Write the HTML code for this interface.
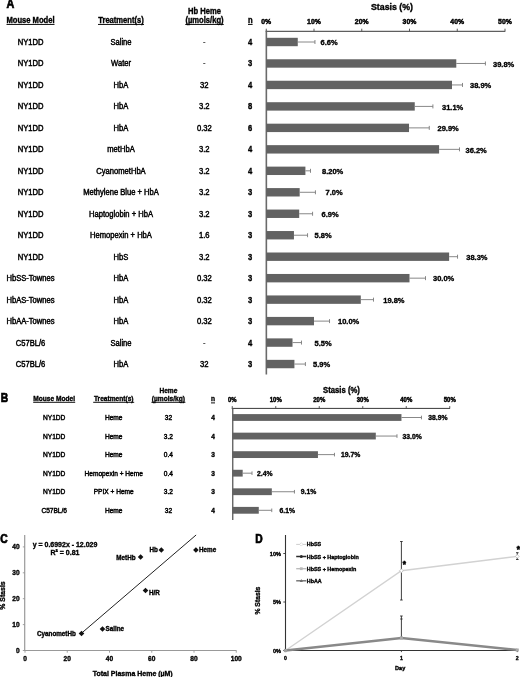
<!DOCTYPE html>
<html><head><meta charset="utf-8"><title>Figure</title>
<style>
html,body{margin:0;padding:0;background:#fff;}
svg{display:block;font-family:"Liberation Sans", Arial, sans-serif;}
</style></head>
<body>
<svg width="520" height="677" viewBox="0 0 520 677">
<rect width="520" height="677" fill="#fff"/>
<text transform="translate(6.60,8.20) scale(1,1.15)" font-size="10.8" font-weight="bold" text-anchor="start" fill="#000" stroke="#000" stroke-width="0.6">A</text>
<text transform="translate(30.50,23.20) scale(1,1.07)" font-size="7.6" font-weight="bold" text-anchor="middle" fill="#000" stroke="#000" stroke-width="0.34">Mouse Model</text>
<line x1="6.50" y1="24.45" x2="54.50" y2="24.45" stroke="#000" stroke-width="0.95"/>
<text transform="translate(121.00,23.20) scale(1,1.07)" font-size="7.6" font-weight="bold" text-anchor="middle" fill="#000" stroke="#000" stroke-width="0.34">Treatment(s)</text>
<line x1="98.00" y1="24.45" x2="144.00" y2="24.45" stroke="#000" stroke-width="0.95"/>
<text transform="translate(204.50,13.60) scale(1,1.07)" font-size="7.6" font-weight="bold" text-anchor="middle" fill="#000" stroke="#000" stroke-width="0.34">Hb Heme</text>
<text transform="translate(204.50,23.20) scale(1,1.07)" font-size="7.6" font-weight="bold" text-anchor="middle" fill="#000" stroke="#000" stroke-width="0.34">(µmols/kg)</text>
<line x1="185.25" y1="24.45" x2="223.75" y2="24.45" stroke="#000" stroke-width="0.95"/>
<text transform="translate(250.30,23.20) scale(1,1.07)" font-size="7.6" font-weight="bold" text-anchor="middle" fill="#000" stroke="#000" stroke-width="0.34">n</text>
<line x1="248.00" y1="24.45" x2="252.60" y2="24.45" stroke="#000" stroke-width="0.95"/>
<text transform="translate(392.00,10.00) scale(1,1.07)" font-size="8.8" font-weight="bold" text-anchor="middle" fill="#000" stroke="#000" stroke-width="0.34">Stasis (%)</text>
<line x1="265.75" y1="31.30" x2="505.30" y2="31.30" stroke="#383838" stroke-width="1.0"/>
<line x1="266.35" y1="30.80" x2="266.35" y2="374.50" stroke="#6a6a6a" stroke-width="1.6"/>
<line x1="266.25" y1="28.70" x2="266.25" y2="31.30" stroke="#4a4a4a" stroke-width="0.9"/>
<text transform="translate(266.25,24.40) scale(1,1.07)" font-size="6.9" font-weight="bold" text-anchor="middle" fill="#000" stroke="#000" stroke-width="0.45">0%</text>
<line x1="314.00" y1="28.70" x2="314.00" y2="31.30" stroke="#4a4a4a" stroke-width="0.9"/>
<text transform="translate(314.00,24.40) scale(1,1.07)" font-size="6.9" font-weight="bold" text-anchor="middle" fill="#000" stroke="#000" stroke-width="0.45">10%</text>
<line x1="361.75" y1="28.70" x2="361.75" y2="31.30" stroke="#4a4a4a" stroke-width="0.9"/>
<text transform="translate(361.75,24.40) scale(1,1.07)" font-size="6.9" font-weight="bold" text-anchor="middle" fill="#000" stroke="#000" stroke-width="0.45">20%</text>
<line x1="409.50" y1="28.70" x2="409.50" y2="31.30" stroke="#4a4a4a" stroke-width="0.9"/>
<text transform="translate(409.50,24.40) scale(1,1.07)" font-size="6.9" font-weight="bold" text-anchor="middle" fill="#000" stroke="#000" stroke-width="0.45">30%</text>
<line x1="457.25" y1="28.70" x2="457.25" y2="31.30" stroke="#4a4a4a" stroke-width="0.9"/>
<text transform="translate(457.25,24.40) scale(1,1.07)" font-size="6.9" font-weight="bold" text-anchor="middle" fill="#000" stroke="#000" stroke-width="0.45">40%</text>
<line x1="505.00" y1="28.70" x2="505.00" y2="31.30" stroke="#4a4a4a" stroke-width="0.9"/>
<text transform="translate(505.00,24.40) scale(1,1.07)" font-size="6.9" font-weight="bold" text-anchor="middle" fill="#000" stroke="#000" stroke-width="0.45">50%</text>
<text transform="translate(30.50,45.01) scale(1,1.07)" font-size="7.6" text-anchor="middle" fill="#000" stroke="#000" stroke-width="0.42">NY1DD</text>
<text transform="translate(121.00,45.01) scale(1,1.07)" font-size="7.6" text-anchor="middle" fill="#000" stroke="#000" stroke-width="0.42">Saline</text>
<text transform="translate(204.30,45.01) scale(1,1.07)" font-size="7.6" text-anchor="middle" fill="#444" stroke="#444" stroke-width="0.1">-</text>
<text transform="translate(250.20,45.01) scale(1,1.07)" font-size="7.6" font-weight="bold" text-anchor="middle" fill="#000" stroke="#000" stroke-width="0.34">4</text>
<rect x="266.25" y="37.80" width="31.52" height="8.40" fill="#626262"/>
<line x1="297.76" y1="42.00" x2="314.95" y2="42.00" stroke="#7a7a7a" stroke-width="0.9"/>
<line x1="314.95" y1="40.00" x2="314.95" y2="44.00" stroke="#7a7a7a" stroke-width="0.9"/>
<text transform="translate(320.50,45.17) scale(1,1.07)" font-size="7.5" font-weight="bold" text-anchor="start" fill="#000" stroke="#000" stroke-width="0.34">6.6%</text>
<text transform="translate(30.50,66.48) scale(1,1.07)" font-size="7.6" text-anchor="middle" fill="#000" stroke="#000" stroke-width="0.42">NY1DD</text>
<text transform="translate(121.00,66.48) scale(1,1.07)" font-size="7.6" text-anchor="middle" fill="#000" stroke="#000" stroke-width="0.42">Water</text>
<text transform="translate(204.30,66.48) scale(1,1.07)" font-size="7.6" text-anchor="middle" fill="#444" stroke="#444" stroke-width="0.1">-</text>
<text transform="translate(250.20,66.48) scale(1,1.07)" font-size="7.6" font-weight="bold" text-anchor="middle" fill="#000" stroke="#000" stroke-width="0.34">3</text>
<rect x="266.25" y="59.27" width="190.04" height="8.40" fill="#626262"/>
<line x1="456.29" y1="63.47" x2="485.42" y2="63.47" stroke="#7a7a7a" stroke-width="0.9"/>
<line x1="485.42" y1="61.47" x2="485.42" y2="65.47" stroke="#7a7a7a" stroke-width="0.9"/>
<text transform="translate(493.00,66.64) scale(1,1.07)" font-size="7.5" font-weight="bold" text-anchor="start" fill="#000" stroke="#000" stroke-width="0.34">39.8%</text>
<text transform="translate(30.50,87.95) scale(1,1.07)" font-size="7.6" text-anchor="middle" fill="#000" stroke="#000" stroke-width="0.42">NY1DD</text>
<text transform="translate(121.00,87.95) scale(1,1.07)" font-size="7.6" text-anchor="middle" fill="#000" stroke="#000" stroke-width="0.42">HbA</text>
<text transform="translate(204.30,87.95) scale(1,1.07)" font-size="7.6" text-anchor="middle" fill="#000" stroke="#000" stroke-width="0.42">32</text>
<text transform="translate(250.20,87.95) scale(1,1.07)" font-size="7.6" font-weight="bold" text-anchor="middle" fill="#000" stroke="#000" stroke-width="0.34">4</text>
<rect x="266.25" y="80.74" width="185.75" height="8.40" fill="#626262"/>
<line x1="452.00" y1="84.94" x2="462.50" y2="84.94" stroke="#7a7a7a" stroke-width="0.9"/>
<line x1="462.50" y1="82.94" x2="462.50" y2="86.94" stroke="#7a7a7a" stroke-width="0.9"/>
<text transform="translate(470.00,88.11) scale(1,1.07)" font-size="7.5" font-weight="bold" text-anchor="start" fill="#000" stroke="#000" stroke-width="0.34">38.9%</text>
<text transform="translate(30.50,109.42) scale(1,1.07)" font-size="7.6" text-anchor="middle" fill="#000" stroke="#000" stroke-width="0.42">NY1DD</text>
<text transform="translate(121.00,109.42) scale(1,1.07)" font-size="7.6" text-anchor="middle" fill="#000" stroke="#000" stroke-width="0.42">HbA</text>
<text transform="translate(204.30,109.42) scale(1,1.07)" font-size="7.6" text-anchor="middle" fill="#000" stroke="#000" stroke-width="0.42">3.2</text>
<text transform="translate(250.20,109.42) scale(1,1.07)" font-size="7.6" font-weight="bold" text-anchor="middle" fill="#000" stroke="#000" stroke-width="0.34">8</text>
<rect x="266.25" y="102.21" width="148.50" height="8.40" fill="#626262"/>
<line x1="414.75" y1="106.41" x2="432.90" y2="106.41" stroke="#7a7a7a" stroke-width="0.9"/>
<line x1="432.90" y1="104.41" x2="432.90" y2="108.41" stroke="#7a7a7a" stroke-width="0.9"/>
<text transform="translate(442.00,109.58) scale(1,1.07)" font-size="7.5" font-weight="bold" text-anchor="start" fill="#000" stroke="#000" stroke-width="0.34">31.1%</text>
<text transform="translate(30.50,130.89) scale(1,1.07)" font-size="7.6" text-anchor="middle" fill="#000" stroke="#000" stroke-width="0.42">NY1DD</text>
<text transform="translate(121.00,130.89) scale(1,1.07)" font-size="7.6" text-anchor="middle" fill="#000" stroke="#000" stroke-width="0.42">HbA</text>
<text transform="translate(204.30,130.89) scale(1,1.07)" font-size="7.6" text-anchor="middle" fill="#000" stroke="#000" stroke-width="0.42">0.32</text>
<text transform="translate(250.20,130.89) scale(1,1.07)" font-size="7.6" font-weight="bold" text-anchor="middle" fill="#000" stroke="#000" stroke-width="0.34">6</text>
<rect x="266.25" y="123.68" width="142.77" height="8.40" fill="#626262"/>
<line x1="409.02" y1="127.88" x2="429.27" y2="127.88" stroke="#7a7a7a" stroke-width="0.9"/>
<line x1="429.27" y1="125.88" x2="429.27" y2="129.88" stroke="#7a7a7a" stroke-width="0.9"/>
<text transform="translate(437.50,131.05) scale(1,1.07)" font-size="7.5" font-weight="bold" text-anchor="start" fill="#000" stroke="#000" stroke-width="0.34">29.9%</text>
<text transform="translate(30.50,152.36) scale(1,1.07)" font-size="7.6" text-anchor="middle" fill="#000" stroke="#000" stroke-width="0.42">NY1DD</text>
<text transform="translate(121.00,152.36) scale(1,1.07)" font-size="7.6" text-anchor="middle" fill="#000" stroke="#000" stroke-width="0.42">metHbA</text>
<text transform="translate(204.30,152.36) scale(1,1.07)" font-size="7.6" text-anchor="middle" fill="#000" stroke="#000" stroke-width="0.42">3.2</text>
<text transform="translate(250.20,152.36) scale(1,1.07)" font-size="7.6" font-weight="bold" text-anchor="middle" fill="#000" stroke="#000" stroke-width="0.34">4</text>
<rect x="266.25" y="145.15" width="172.86" height="8.40" fill="#626262"/>
<line x1="439.11" y1="149.35" x2="459.49" y2="149.35" stroke="#7a7a7a" stroke-width="0.9"/>
<line x1="459.49" y1="147.35" x2="459.49" y2="151.35" stroke="#7a7a7a" stroke-width="0.9"/>
<text transform="translate(465.50,152.52) scale(1,1.07)" font-size="7.5" font-weight="bold" text-anchor="start" fill="#000" stroke="#000" stroke-width="0.34">36.2%</text>
<text transform="translate(30.50,173.83) scale(1,1.07)" font-size="7.6" text-anchor="middle" fill="#000" stroke="#000" stroke-width="0.42">NY1DD</text>
<text transform="translate(121.00,173.83) scale(1,1.07)" font-size="7.6" text-anchor="middle" fill="#000" stroke="#000" stroke-width="0.42">CyanometHbA</text>
<text transform="translate(204.30,173.83) scale(1,1.07)" font-size="7.6" text-anchor="middle" fill="#000" stroke="#000" stroke-width="0.42">3.2</text>
<text transform="translate(250.20,173.83) scale(1,1.07)" font-size="7.6" font-weight="bold" text-anchor="middle" fill="#000" stroke="#000" stroke-width="0.34">4</text>
<rect x="266.25" y="166.62" width="39.16" height="8.40" fill="#626262"/>
<line x1="305.40" y1="170.82" x2="310.51" y2="170.82" stroke="#7a7a7a" stroke-width="0.9"/>
<line x1="310.51" y1="168.82" x2="310.51" y2="172.82" stroke="#7a7a7a" stroke-width="0.9"/>
<text transform="translate(322.00,173.99) scale(1,1.07)" font-size="7.5" font-weight="bold" text-anchor="start" fill="#000" stroke="#000" stroke-width="0.34">8.20%</text>
<text transform="translate(30.50,195.30) scale(1,1.07)" font-size="7.6" text-anchor="middle" fill="#000" stroke="#000" stroke-width="0.42">NY1DD</text>
<text transform="translate(121.00,195.30) scale(1,1.07)" font-size="7.6" text-anchor="middle" fill="#000" stroke="#000" stroke-width="0.42">Methylene Blue + HbA</text>
<text transform="translate(204.30,195.30) scale(1,1.07)" font-size="7.6" text-anchor="middle" fill="#000" stroke="#000" stroke-width="0.42">3.2</text>
<text transform="translate(250.20,195.30) scale(1,1.07)" font-size="7.6" font-weight="bold" text-anchor="middle" fill="#000" stroke="#000" stroke-width="0.34">3</text>
<rect x="266.25" y="188.09" width="33.43" height="8.40" fill="#626262"/>
<line x1="299.68" y1="192.29" x2="315.43" y2="192.29" stroke="#7a7a7a" stroke-width="0.9"/>
<line x1="315.43" y1="190.29" x2="315.43" y2="194.29" stroke="#7a7a7a" stroke-width="0.9"/>
<text transform="translate(325.50,195.46) scale(1,1.07)" font-size="7.5" font-weight="bold" text-anchor="start" fill="#000" stroke="#000" stroke-width="0.34">7.0%</text>
<text transform="translate(30.50,216.77) scale(1,1.07)" font-size="7.6" text-anchor="middle" fill="#000" stroke="#000" stroke-width="0.42">NY1DD</text>
<text transform="translate(121.00,216.77) scale(1,1.07)" font-size="7.6" text-anchor="middle" fill="#000" stroke="#000" stroke-width="0.42">Haptoglobin + HbA</text>
<text transform="translate(204.30,216.77) scale(1,1.07)" font-size="7.6" text-anchor="middle" fill="#000" stroke="#000" stroke-width="0.42">3.2</text>
<text transform="translate(250.20,216.77) scale(1,1.07)" font-size="7.6" font-weight="bold" text-anchor="middle" fill="#000" stroke="#000" stroke-width="0.34">3</text>
<rect x="266.25" y="209.56" width="32.95" height="8.40" fill="#626262"/>
<line x1="299.20" y1="213.76" x2="312.57" y2="213.76" stroke="#7a7a7a" stroke-width="0.9"/>
<line x1="312.57" y1="211.76" x2="312.57" y2="215.76" stroke="#7a7a7a" stroke-width="0.9"/>
<text transform="translate(321.50,216.93) scale(1,1.07)" font-size="7.5" font-weight="bold" text-anchor="start" fill="#000" stroke="#000" stroke-width="0.34">6.9%</text>
<text transform="translate(30.50,238.24) scale(1,1.07)" font-size="7.6" text-anchor="middle" fill="#000" stroke="#000" stroke-width="0.42">NY1DD</text>
<text transform="translate(121.00,238.24) scale(1,1.07)" font-size="7.6" text-anchor="middle" fill="#000" stroke="#000" stroke-width="0.42">Hemopexin + HbA</text>
<text transform="translate(204.30,238.24) scale(1,1.07)" font-size="7.6" text-anchor="middle" fill="#000" stroke="#000" stroke-width="0.42">1.6</text>
<text transform="translate(250.20,238.24) scale(1,1.07)" font-size="7.6" font-weight="bold" text-anchor="middle" fill="#000" stroke="#000" stroke-width="0.34">3</text>
<rect x="266.25" y="231.03" width="27.70" height="8.40" fill="#626262"/>
<line x1="293.94" y1="235.23" x2="307.55" y2="235.23" stroke="#7a7a7a" stroke-width="0.9"/>
<line x1="307.55" y1="233.23" x2="307.55" y2="237.23" stroke="#7a7a7a" stroke-width="0.9"/>
<text transform="translate(314.50,238.40) scale(1,1.07)" font-size="7.5" font-weight="bold" text-anchor="start" fill="#000" stroke="#000" stroke-width="0.34">5.8%</text>
<text transform="translate(30.50,259.71) scale(1,1.07)" font-size="7.6" text-anchor="middle" fill="#000" stroke="#000" stroke-width="0.42">NY1DD</text>
<text transform="translate(121.00,259.71) scale(1,1.07)" font-size="7.6" text-anchor="middle" fill="#000" stroke="#000" stroke-width="0.42">HbS</text>
<text transform="translate(204.30,259.71) scale(1,1.07)" font-size="7.6" text-anchor="middle" fill="#000" stroke="#000" stroke-width="0.42">3.2</text>
<text transform="translate(250.20,259.71) scale(1,1.07)" font-size="7.6" font-weight="bold" text-anchor="middle" fill="#000" stroke="#000" stroke-width="0.34">3</text>
<rect x="266.25" y="252.50" width="182.88" height="8.40" fill="#626262"/>
<line x1="449.13" y1="256.70" x2="457.54" y2="256.70" stroke="#7a7a7a" stroke-width="0.9"/>
<line x1="457.54" y1="254.70" x2="457.54" y2="258.70" stroke="#7a7a7a" stroke-width="0.9"/>
<text transform="translate(466.25,259.87) scale(1,1.07)" font-size="7.5" font-weight="bold" text-anchor="start" fill="#000" stroke="#000" stroke-width="0.34">38.3%</text>
<text transform="translate(30.50,281.18) scale(1,1.07)" font-size="7.6" text-anchor="middle" fill="#000" stroke="#000" stroke-width="0.42">HbSS-Townes</text>
<text transform="translate(121.00,281.18) scale(1,1.07)" font-size="7.6" text-anchor="middle" fill="#000" stroke="#000" stroke-width="0.42">HbA</text>
<text transform="translate(204.30,281.18) scale(1,1.07)" font-size="7.6" text-anchor="middle" fill="#000" stroke="#000" stroke-width="0.42">0.32</text>
<text transform="translate(250.20,281.18) scale(1,1.07)" font-size="7.6" font-weight="bold" text-anchor="middle" fill="#000" stroke="#000" stroke-width="0.34">3</text>
<rect x="266.25" y="273.97" width="143.25" height="8.40" fill="#626262"/>
<line x1="409.50" y1="278.17" x2="425.50" y2="278.17" stroke="#7a7a7a" stroke-width="0.9"/>
<line x1="425.50" y1="276.17" x2="425.50" y2="280.17" stroke="#7a7a7a" stroke-width="0.9"/>
<text transform="translate(433.00,281.34) scale(1,1.07)" font-size="7.5" font-weight="bold" text-anchor="start" fill="#000" stroke="#000" stroke-width="0.34">30.0%</text>
<text transform="translate(30.50,302.65) scale(1,1.07)" font-size="7.6" text-anchor="middle" fill="#000" stroke="#000" stroke-width="0.42">HbAS-Townes</text>
<text transform="translate(121.00,302.65) scale(1,1.07)" font-size="7.6" text-anchor="middle" fill="#000" stroke="#000" stroke-width="0.42">HbA</text>
<text transform="translate(204.30,302.65) scale(1,1.07)" font-size="7.6" text-anchor="middle" fill="#000" stroke="#000" stroke-width="0.42">0.32</text>
<text transform="translate(250.20,302.65) scale(1,1.07)" font-size="7.6" font-weight="bold" text-anchor="middle" fill="#000" stroke="#000" stroke-width="0.34">3</text>
<rect x="266.25" y="295.44" width="94.55" height="8.40" fill="#626262"/>
<line x1="360.80" y1="299.64" x2="373.50" y2="299.64" stroke="#7a7a7a" stroke-width="0.9"/>
<line x1="373.50" y1="297.64" x2="373.50" y2="301.64" stroke="#7a7a7a" stroke-width="0.9"/>
<text transform="translate(383.25,302.81) scale(1,1.07)" font-size="7.5" font-weight="bold" text-anchor="start" fill="#000" stroke="#000" stroke-width="0.34">19.8%</text>
<text transform="translate(30.50,324.12) scale(1,1.07)" font-size="7.6" text-anchor="middle" fill="#000" stroke="#000" stroke-width="0.42">HbAA-Townes</text>
<text transform="translate(121.00,324.12) scale(1,1.07)" font-size="7.6" text-anchor="middle" fill="#000" stroke="#000" stroke-width="0.42">HbA</text>
<text transform="translate(204.30,324.12) scale(1,1.07)" font-size="7.6" text-anchor="middle" fill="#000" stroke="#000" stroke-width="0.42">0.32</text>
<text transform="translate(250.20,324.12) scale(1,1.07)" font-size="7.6" font-weight="bold" text-anchor="middle" fill="#000" stroke="#000" stroke-width="0.34">3</text>
<rect x="266.25" y="316.91" width="47.75" height="8.40" fill="#626262"/>
<line x1="314.00" y1="321.11" x2="329.52" y2="321.11" stroke="#7a7a7a" stroke-width="0.9"/>
<line x1="329.52" y1="319.11" x2="329.52" y2="323.11" stroke="#7a7a7a" stroke-width="0.9"/>
<text transform="translate(338.00,324.28) scale(1,1.07)" font-size="7.5" font-weight="bold" text-anchor="start" fill="#000" stroke="#000" stroke-width="0.34">10.0%</text>
<text transform="translate(30.50,345.59) scale(1,1.07)" font-size="7.6" text-anchor="middle" fill="#000" stroke="#000" stroke-width="0.42">C57BL/6</text>
<text transform="translate(121.00,345.59) scale(1,1.07)" font-size="7.6" text-anchor="middle" fill="#000" stroke="#000" stroke-width="0.42">Saline</text>
<text transform="translate(204.30,345.59) scale(1,1.07)" font-size="7.6" text-anchor="middle" fill="#444" stroke="#444" stroke-width="0.1">-</text>
<text transform="translate(250.20,345.59) scale(1,1.07)" font-size="7.6" font-weight="bold" text-anchor="middle" fill="#000" stroke="#000" stroke-width="0.34">4</text>
<rect x="266.25" y="338.38" width="26.26" height="8.40" fill="#626262"/>
<line x1="292.51" y1="342.58" x2="301.49" y2="342.58" stroke="#7a7a7a" stroke-width="0.9"/>
<line x1="301.49" y1="340.58" x2="301.49" y2="344.58" stroke="#7a7a7a" stroke-width="0.9"/>
<text transform="translate(314.50,345.75) scale(1,1.07)" font-size="7.5" font-weight="bold" text-anchor="start" fill="#000" stroke="#000" stroke-width="0.34">5.5%</text>
<text transform="translate(30.50,367.06) scale(1,1.07)" font-size="7.6" text-anchor="middle" fill="#000" stroke="#000" stroke-width="0.42">C57BL/6</text>
<text transform="translate(121.00,367.06) scale(1,1.07)" font-size="7.6" text-anchor="middle" fill="#000" stroke="#000" stroke-width="0.42">HbA</text>
<text transform="translate(204.30,367.06) scale(1,1.07)" font-size="7.6" text-anchor="middle" fill="#000" stroke="#000" stroke-width="0.42">32</text>
<text transform="translate(250.20,367.06) scale(1,1.07)" font-size="7.6" font-weight="bold" text-anchor="middle" fill="#000" stroke="#000" stroke-width="0.34">3</text>
<rect x="266.25" y="359.85" width="28.17" height="8.40" fill="#626262"/>
<line x1="294.42" y1="364.05" x2="305.40" y2="364.05" stroke="#7a7a7a" stroke-width="0.9"/>
<line x1="305.40" y1="362.05" x2="305.40" y2="366.05" stroke="#7a7a7a" stroke-width="0.9"/>
<text transform="translate(313.00,367.22) scale(1,1.07)" font-size="7.5" font-weight="bold" text-anchor="start" fill="#000" stroke="#000" stroke-width="0.34">5.9%</text>
<text transform="translate(0.80,402.20) scale(1,1.17)" font-size="10.3" font-weight="bold" text-anchor="start" fill="#000" stroke="#000" stroke-width="0.6">B</text>
<text transform="translate(54.20,401.30) scale(1,1.07)" font-size="6.6" font-weight="bold" text-anchor="middle" fill="#000" stroke="#000" stroke-width="0.34">Mouse Model</text>
<line x1="33.20" y1="402.30" x2="75.20" y2="402.30" stroke="#000" stroke-width="0.95"/>
<text transform="translate(113.70,401.30) scale(1,1.07)" font-size="6.6" font-weight="bold" text-anchor="middle" fill="#000" stroke="#000" stroke-width="0.34">Treatment(s)</text>
<line x1="93.20" y1="402.30" x2="134.20" y2="402.30" stroke="#000" stroke-width="0.95"/>
<text transform="translate(168.40,392.90) scale(1,1.07)" font-size="6.6" font-weight="bold" text-anchor="middle" fill="#000" stroke="#000" stroke-width="0.34">Heme</text>
<text transform="translate(168.40,401.30) scale(1,1.07)" font-size="6.6" font-weight="bold" text-anchor="middle" fill="#000" stroke="#000" stroke-width="0.34">(µmols/kg)</text>
<line x1="151.40" y1="402.30" x2="185.40" y2="402.30" stroke="#000" stroke-width="0.95"/>
<text transform="translate(213.00,401.30) scale(1,1.07)" font-size="6.6" font-weight="bold" text-anchor="middle" fill="#000" stroke="#000" stroke-width="0.34">n</text>
<line x1="211.00" y1="402.90" x2="215.00" y2="402.90" stroke="#000" stroke-width="0.95"/>
<text transform="translate(341.50,393.40) scale(1,1.07)" font-size="7.7" font-weight="bold" text-anchor="middle" fill="#000" stroke="#000" stroke-width="0.34">Stasis (%)</text>
<line x1="231.75" y1="408.40" x2="450.05" y2="408.40" stroke="#383838" stroke-width="1.0"/>
<line x1="232.75" y1="407.90" x2="232.75" y2="520.00" stroke="#5a5a5a" stroke-width="1.3"/>
<line x1="232.25" y1="406.10" x2="232.25" y2="408.40" stroke="#4a4a4a" stroke-width="0.9"/>
<text transform="translate(232.25,402.30) scale(1,1.07)" font-size="6.0" font-weight="bold" text-anchor="middle" fill="#000" stroke="#000" stroke-width="0.42">0%</text>
<line x1="275.75" y1="406.10" x2="275.75" y2="408.40" stroke="#4a4a4a" stroke-width="0.9"/>
<text transform="translate(275.75,402.30) scale(1,1.07)" font-size="6.0" font-weight="bold" text-anchor="middle" fill="#000" stroke="#000" stroke-width="0.42">10%</text>
<line x1="319.25" y1="406.10" x2="319.25" y2="408.40" stroke="#4a4a4a" stroke-width="0.9"/>
<text transform="translate(319.25,402.30) scale(1,1.07)" font-size="6.0" font-weight="bold" text-anchor="middle" fill="#000" stroke="#000" stroke-width="0.42">20%</text>
<line x1="362.75" y1="406.10" x2="362.75" y2="408.40" stroke="#4a4a4a" stroke-width="0.9"/>
<text transform="translate(362.75,402.30) scale(1,1.07)" font-size="6.0" font-weight="bold" text-anchor="middle" fill="#000" stroke="#000" stroke-width="0.42">30%</text>
<line x1="406.25" y1="406.10" x2="406.25" y2="408.40" stroke="#4a4a4a" stroke-width="0.9"/>
<text transform="translate(406.25,402.30) scale(1,1.07)" font-size="6.0" font-weight="bold" text-anchor="middle" fill="#000" stroke="#000" stroke-width="0.42">40%</text>
<line x1="449.75" y1="406.10" x2="449.75" y2="408.40" stroke="#4a4a4a" stroke-width="0.9"/>
<text transform="translate(449.75,402.30) scale(1,1.07)" font-size="6.0" font-weight="bold" text-anchor="middle" fill="#000" stroke="#000" stroke-width="0.42">50%</text>
<text transform="translate(54.20,420.03) scale(1,1.07)" font-size="6.6" text-anchor="middle" fill="#000" stroke="#000" stroke-width="0.42">NY1DD</text>
<text transform="translate(113.70,420.03) scale(1,1.07)" font-size="6.6" text-anchor="middle" fill="#000" stroke="#000" stroke-width="0.42">Heme</text>
<text transform="translate(168.40,420.03) scale(1,1.07)" font-size="6.6" text-anchor="middle" fill="#000" stroke="#000" stroke-width="0.42">32</text>
<text transform="translate(213.20,420.03) scale(1,1.07)" font-size="6.6" font-weight="bold" text-anchor="middle" fill="#000" stroke="#000" stroke-width="0.34">4</text>
<rect x="232.25" y="414.10" width="169.21" height="6.80" fill="#626262"/>
<line x1="401.46" y1="417.50" x2="421.48" y2="417.50" stroke="#7a7a7a" stroke-width="0.9"/>
<line x1="421.48" y1="415.70" x2="421.48" y2="419.30" stroke="#7a7a7a" stroke-width="0.9"/>
<text transform="translate(428.30,420.10) scale(1,1.07)" font-size="6.8" font-weight="bold" text-anchor="start" fill="#000" stroke="#000" stroke-width="0.34">38.9%</text>
<text transform="translate(54.20,438.59) scale(1,1.07)" font-size="6.6" text-anchor="middle" fill="#000" stroke="#000" stroke-width="0.42">NY1DD</text>
<text transform="translate(113.70,438.59) scale(1,1.07)" font-size="6.6" text-anchor="middle" fill="#000" stroke="#000" stroke-width="0.42">Heme</text>
<text transform="translate(168.40,438.59) scale(1,1.07)" font-size="6.6" text-anchor="middle" fill="#000" stroke="#000" stroke-width="0.42">3.2</text>
<text transform="translate(213.20,438.59) scale(1,1.07)" font-size="6.6" font-weight="bold" text-anchor="middle" fill="#000" stroke="#000" stroke-width="0.34">4</text>
<rect x="232.25" y="432.66" width="143.55" height="6.80" fill="#626262"/>
<line x1="375.80" y1="436.06" x2="396.98" y2="436.06" stroke="#7a7a7a" stroke-width="0.9"/>
<line x1="396.98" y1="434.26" x2="396.98" y2="437.86" stroke="#7a7a7a" stroke-width="0.9"/>
<text transform="translate(402.50,438.66) scale(1,1.07)" font-size="6.8" font-weight="bold" text-anchor="start" fill="#000" stroke="#000" stroke-width="0.34">33.0%</text>
<text transform="translate(54.20,457.15) scale(1,1.07)" font-size="6.6" text-anchor="middle" fill="#000" stroke="#000" stroke-width="0.42">NY1DD</text>
<text transform="translate(113.70,457.15) scale(1,1.07)" font-size="6.6" text-anchor="middle" fill="#000" stroke="#000" stroke-width="0.42">Heme</text>
<text transform="translate(168.40,457.15) scale(1,1.07)" font-size="6.6" text-anchor="middle" fill="#000" stroke="#000" stroke-width="0.42">0.4</text>
<text transform="translate(213.20,457.15) scale(1,1.07)" font-size="6.6" font-weight="bold" text-anchor="middle" fill="#000" stroke="#000" stroke-width="0.34">3</text>
<rect x="232.25" y="451.22" width="85.69" height="6.80" fill="#626262"/>
<line x1="317.94" y1="454.62" x2="334.48" y2="454.62" stroke="#7a7a7a" stroke-width="0.9"/>
<line x1="334.48" y1="452.82" x2="334.48" y2="456.42" stroke="#7a7a7a" stroke-width="0.9"/>
<text transform="translate(341.00,457.22) scale(1,1.07)" font-size="6.8" font-weight="bold" text-anchor="start" fill="#000" stroke="#000" stroke-width="0.34">19.7%</text>
<text transform="translate(54.20,475.71) scale(1,1.07)" font-size="6.6" text-anchor="middle" fill="#000" stroke="#000" stroke-width="0.42">NY1DD</text>
<text transform="translate(113.70,475.71) scale(1,1.07)" font-size="6.6" text-anchor="middle" fill="#000" stroke="#000" stroke-width="0.42">Hemopexin + Heme</text>
<text transform="translate(168.40,475.71) scale(1,1.07)" font-size="6.6" text-anchor="middle" fill="#000" stroke="#000" stroke-width="0.42">0.4</text>
<text transform="translate(213.20,475.71) scale(1,1.07)" font-size="6.6" font-weight="bold" text-anchor="middle" fill="#000" stroke="#000" stroke-width="0.34">3</text>
<rect x="232.25" y="469.78" width="10.44" height="6.80" fill="#626262"/>
<line x1="242.69" y1="473.18" x2="252.00" y2="473.18" stroke="#7a7a7a" stroke-width="0.9"/>
<line x1="252.00" y1="471.38" x2="252.00" y2="474.98" stroke="#7a7a7a" stroke-width="0.9"/>
<text transform="translate(257.00,475.78) scale(1,1.07)" font-size="6.8" font-weight="bold" text-anchor="start" fill="#000" stroke="#000" stroke-width="0.34">2.4%</text>
<text transform="translate(54.20,494.27) scale(1,1.07)" font-size="6.6" text-anchor="middle" fill="#000" stroke="#000" stroke-width="0.42">NY1DD</text>
<text transform="translate(113.70,494.27) scale(1,1.07)" font-size="6.6" text-anchor="middle" fill="#000" stroke="#000" stroke-width="0.42">PPIX + Heme</text>
<text transform="translate(168.40,494.27) scale(1,1.07)" font-size="6.6" text-anchor="middle" fill="#000" stroke="#000" stroke-width="0.42">3.2</text>
<text transform="translate(213.20,494.27) scale(1,1.07)" font-size="6.6" font-weight="bold" text-anchor="middle" fill="#000" stroke="#000" stroke-width="0.34">3</text>
<rect x="232.25" y="488.34" width="39.58" height="6.80" fill="#626262"/>
<line x1="271.83" y1="491.74" x2="294.45" y2="491.74" stroke="#7a7a7a" stroke-width="0.9"/>
<line x1="294.45" y1="489.94" x2="294.45" y2="493.54" stroke="#7a7a7a" stroke-width="0.9"/>
<text transform="translate(300.75,494.34) scale(1,1.07)" font-size="6.8" font-weight="bold" text-anchor="start" fill="#000" stroke="#000" stroke-width="0.34">9.1%</text>
<text transform="translate(54.20,512.83) scale(1,1.07)" font-size="6.6" text-anchor="middle" fill="#000" stroke="#000" stroke-width="0.42">C57BL/6</text>
<text transform="translate(113.70,512.83) scale(1,1.07)" font-size="6.6" text-anchor="middle" fill="#000" stroke="#000" stroke-width="0.42">Heme</text>
<text transform="translate(168.40,512.83) scale(1,1.07)" font-size="6.6" text-anchor="middle" fill="#000" stroke="#000" stroke-width="0.42">32</text>
<text transform="translate(213.20,512.83) scale(1,1.07)" font-size="6.6" font-weight="bold" text-anchor="middle" fill="#000" stroke="#000" stroke-width="0.34">4</text>
<rect x="232.25" y="506.90" width="26.53" height="6.80" fill="#626262"/>
<line x1="258.78" y1="510.30" x2="271.75" y2="510.30" stroke="#7a7a7a" stroke-width="0.9"/>
<line x1="271.75" y1="508.50" x2="271.75" y2="512.10" stroke="#7a7a7a" stroke-width="0.9"/>
<text transform="translate(279.50,512.90) scale(1,1.07)" font-size="6.8" font-weight="bold" text-anchor="start" fill="#000" stroke="#000" stroke-width="0.34">6.1%</text>
<text transform="translate(0.20,543.40) scale(1,1.17)" font-size="10.3" font-weight="bold" text-anchor="start" fill="#000" stroke="#000" stroke-width="0.6">C</text>
<line x1="24.70" y1="535.00" x2="24.70" y2="651.00" stroke="#999" stroke-width="1.2"/>
<line x1="24.20" y1="650.50" x2="236.50" y2="650.50" stroke="#999" stroke-width="1.2"/>
<line x1="22.80" y1="650.50" x2="25.00" y2="650.50" stroke="#999" stroke-width="0.9"/>
<text transform="translate(19.60,653.03) scale(1,1.07)" font-size="6.6" font-weight="bold" text-anchor="end" fill="#000" stroke="#000" stroke-width="0.34">0</text>
<line x1="22.80" y1="624.60" x2="25.00" y2="624.60" stroke="#999" stroke-width="0.9"/>
<text transform="translate(19.60,627.13) scale(1,1.07)" font-size="6.6" font-weight="bold" text-anchor="end" fill="#000" stroke="#000" stroke-width="0.34">10</text>
<line x1="22.80" y1="598.70" x2="25.00" y2="598.70" stroke="#999" stroke-width="0.9"/>
<text transform="translate(19.60,601.23) scale(1,1.07)" font-size="6.6" font-weight="bold" text-anchor="end" fill="#000" stroke="#000" stroke-width="0.34">20</text>
<line x1="22.80" y1="572.80" x2="25.00" y2="572.80" stroke="#999" stroke-width="0.9"/>
<text transform="translate(19.60,575.33) scale(1,1.07)" font-size="6.6" font-weight="bold" text-anchor="end" fill="#000" stroke="#000" stroke-width="0.34">30</text>
<line x1="22.80" y1="546.90" x2="25.00" y2="546.90" stroke="#999" stroke-width="0.9"/>
<text transform="translate(19.60,549.43) scale(1,1.07)" font-size="6.6" font-weight="bold" text-anchor="end" fill="#000" stroke="#000" stroke-width="0.34">40</text>
<line x1="25.00" y1="650.50" x2="25.00" y2="652.70" stroke="#999" stroke-width="0.9"/>
<text transform="translate(25.00,661.40) scale(1,1.07)" font-size="6.6" font-weight="bold" text-anchor="middle" fill="#000" stroke="#000" stroke-width="0.34">0</text>
<line x1="67.25" y1="650.50" x2="67.25" y2="652.70" stroke="#999" stroke-width="0.9"/>
<text transform="translate(67.25,661.40) scale(1,1.07)" font-size="6.6" font-weight="bold" text-anchor="middle" fill="#000" stroke="#000" stroke-width="0.34">20</text>
<line x1="109.50" y1="650.50" x2="109.50" y2="652.70" stroke="#999" stroke-width="0.9"/>
<text transform="translate(109.50,661.40) scale(1,1.07)" font-size="6.6" font-weight="bold" text-anchor="middle" fill="#000" stroke="#000" stroke-width="0.34">40</text>
<line x1="151.75" y1="650.50" x2="151.75" y2="652.70" stroke="#999" stroke-width="0.9"/>
<text transform="translate(151.75,661.40) scale(1,1.07)" font-size="6.6" font-weight="bold" text-anchor="middle" fill="#000" stroke="#000" stroke-width="0.34">60</text>
<line x1="194.00" y1="650.50" x2="194.00" y2="652.70" stroke="#999" stroke-width="0.9"/>
<text transform="translate(194.00,661.40) scale(1,1.07)" font-size="6.6" font-weight="bold" text-anchor="middle" fill="#000" stroke="#000" stroke-width="0.34">80</text>
<line x1="236.25" y1="650.50" x2="236.25" y2="652.70" stroke="#999" stroke-width="0.9"/>
<text transform="translate(236.25,661.40) scale(1,1.07)" font-size="6.6" font-weight="bold" text-anchor="middle" fill="#000" stroke="#000" stroke-width="0.34">100</text>
<text transform="translate(132.70,676.00) scale(1,1.07)" font-size="7" font-weight="bold" text-anchor="middle" fill="#000" stroke="#000" stroke-width="0.34">Total Plasma Heme (µM)</text>
<text x="0.00" y="0.00" font-size="6.9" font-weight="bold" text-anchor="middle" fill="#000" stroke="#000" stroke-width="0.34" transform="translate(5.2,595.5) rotate(-90)">% Stasis</text>
<text transform="translate(65.00,547.00) scale(1,1.07)" font-size="7" font-weight="bold" text-anchor="middle" fill="#000" stroke="#000" stroke-width="0.34">y = 0.6992x - 12.029</text>
<text transform="translate(65.00,554.60) scale(1,1.07)" font-size="7" font-weight="bold" text-anchor="middle" fill="#000" stroke="#000" stroke-width="0.34">R² = 0.81</text>
<line x1="81.40" y1="633.30" x2="196.11" y2="534.97" stroke="#222" stroke-width="1.0"/>
<path d="M78.70 633.50L81.50 630.70L84.30 633.50L81.50 636.30Z" fill="#111" stroke="none" stroke-width="0"/>
<text transform="translate(75.80,636.41) scale(1,1.07)" font-size="6.3" font-weight="bold" text-anchor="end" fill="#000" stroke="#000" stroke-width="0.34">CyanometHb</text>
<path d="M99.70 629.00L102.50 626.20L105.30 629.00L102.50 631.80Z" fill="#111" stroke="none" stroke-width="0"/>
<text transform="translate(105.50,631.41) scale(1,1.07)" font-size="6.3" font-weight="bold" text-anchor="start" fill="#000" stroke="#000" stroke-width="0.34">Saline</text>
<path d="M158.50 550.00L161.30 547.20L164.10 550.00L161.30 552.80Z" fill="#111" stroke="none" stroke-width="0"/>
<text transform="translate(157.80,551.91) scale(1,1.07)" font-size="6.3" font-weight="bold" text-anchor="end" fill="#000" stroke="#000" stroke-width="0.34">Hb</text>
<path d="M193.10 550.00L195.90 547.20L198.70 550.00L195.90 552.80Z" fill="#111" stroke="none" stroke-width="0"/>
<text transform="translate(199.00,552.41) scale(1,1.07)" font-size="6.3" font-weight="bold" text-anchor="start" fill="#000" stroke="#000" stroke-width="0.34">Heme</text>
<path d="M137.80 557.00L140.60 554.20L143.40 557.00L140.60 559.80Z" fill="#111" stroke="none" stroke-width="0"/>
<text transform="translate(135.60,560.41) scale(1,1.07)" font-size="6.3" font-weight="bold" text-anchor="end" fill="#000" stroke="#000" stroke-width="0.34">MetHb</text>
<path d="M142.70 590.50L145.50 587.70L148.30 590.50L145.50 593.30Z" fill="#111" stroke="none" stroke-width="0"/>
<text transform="translate(149.00,595.41) scale(1,1.07)" font-size="6.3" font-weight="bold" text-anchor="start" fill="#000" stroke="#000" stroke-width="0.34">H/R</text>
<text transform="translate(255.30,543.30) scale(1,1.17)" font-size="10.3" font-weight="bold" text-anchor="start" fill="#000" stroke="#000" stroke-width="0.6">D</text>
<line x1="285.50" y1="535.00" x2="285.50" y2="651.00" stroke="#333" stroke-width="1.1"/>
<line x1="285.00" y1="650.50" x2="517.80" y2="650.50" stroke="#333" stroke-width="1.1"/>
<line x1="283.30" y1="650.50" x2="285.50" y2="650.50" stroke="#333" stroke-width="0.9"/>
<text transform="translate(281.00,652.85) scale(1,1.07)" font-size="5.6" font-weight="bold" text-anchor="end" fill="#000" stroke="#000" stroke-width="0.34">0%</text>
<line x1="283.30" y1="602.00" x2="285.50" y2="602.00" stroke="#333" stroke-width="0.9"/>
<text transform="translate(281.00,604.35) scale(1,1.07)" font-size="5.6" font-weight="bold" text-anchor="end" fill="#000" stroke="#000" stroke-width="0.34">5%</text>
<line x1="283.30" y1="553.50" x2="285.50" y2="553.50" stroke="#333" stroke-width="0.9"/>
<text transform="translate(281.00,555.85) scale(1,1.07)" font-size="5.6" font-weight="bold" text-anchor="end" fill="#000" stroke="#000" stroke-width="0.34">10%</text>
<line x1="285.50" y1="650.50" x2="285.50" y2="652.10" stroke="#333" stroke-width="0.9"/>
<text transform="translate(285.50,659.70) scale(1,1.07)" font-size="5.2" font-weight="bold" text-anchor="middle" fill="#000" stroke="#000" stroke-width="0.34">0</text>
<line x1="401.40" y1="650.50" x2="401.40" y2="652.10" stroke="#333" stroke-width="0.9"/>
<text transform="translate(401.40,659.70) scale(1,1.07)" font-size="5.2" font-weight="bold" text-anchor="middle" fill="#000" stroke="#000" stroke-width="0.34">1</text>
<line x1="517.30" y1="650.50" x2="517.30" y2="652.10" stroke="#333" stroke-width="0.9"/>
<text transform="translate(517.30,659.70) scale(1,1.07)" font-size="5.2" font-weight="bold" text-anchor="middle" fill="#000" stroke="#000" stroke-width="0.34">2</text>
<text transform="translate(400.20,669.80) scale(1,1.07)" font-size="5.6" font-weight="bold" text-anchor="middle" fill="#000" stroke="#000" stroke-width="0.34">Day</text>
<text x="0.00" y="0.00" font-size="6.8" font-weight="bold" text-anchor="middle" fill="#000" stroke="#000" stroke-width="0.34" transform="translate(260.3,600.6) rotate(-90)">% Stasis</text>
<polyline fill="none" stroke="#d2d2d2" stroke-width="1.4" points="285.50,650.50 401.40,570.77 517.30,556.41"/>
<line x1="401.40" y1="541.50" x2="401.40" y2="600.00" stroke="#2a2a2a" stroke-width="0.9"/>
<line x1="400.10" y1="541.50" x2="402.70" y2="541.50" stroke="#2a2a2a" stroke-width="0.9"/>
<line x1="400.10" y1="600.00" x2="402.70" y2="600.00" stroke="#2a2a2a" stroke-width="0.9"/>
<line x1="517.30" y1="552.70" x2="517.30" y2="559.50" stroke="#2a2a2a" stroke-width="0.9"/>
<line x1="516.00" y1="552.70" x2="518.60" y2="552.70" stroke="#2a2a2a" stroke-width="0.9"/>
<line x1="516.00" y1="559.50" x2="518.60" y2="559.50" stroke="#2a2a2a" stroke-width="0.9"/>
<line x1="401.40" y1="616.00" x2="401.40" y2="638.00" stroke="#2a2a2a" stroke-width="0.9"/>
<line x1="400.10" y1="616.00" x2="402.70" y2="616.00" stroke="#2a2a2a" stroke-width="0.9"/>
<line x1="400.10" y1="619.00" x2="402.70" y2="619.00" stroke="#2a2a2a" stroke-width="0.8"/>
<polyline fill="none" stroke="#898989" stroke-width="2.5" points="285.50,650.50 401.40,637.89 517.30,650.01"/>
<path d="M399.50 570.77L401.40 568.87L403.30 570.77L401.40 572.67Z" fill="#fff" stroke="#b5b5b5" stroke-width="0.7"/>
<path d="M515.40 556.41L517.30 554.51L519.20 556.41L517.30 558.31Z" fill="#fff" stroke="#b5b5b5" stroke-width="0.7"/>
<rect x="283.90" y="648.90" width="3.20" height="3.20" fill="#a2a2a2"/>
<rect x="399.90" y="636.39" width="3.00" height="3.00" fill="#aaa"/>
<rect x="515.80" y="648.51" width="3.00" height="3.00" fill="#aaa"/>
<text transform="translate(404.30,566.60) scale(1,1.07)" font-size="8.2" font-weight="bold" text-anchor="middle" fill="#000" stroke="#000" stroke-width="0.55">*</text>
<text transform="translate(518.40,552.00) scale(1,1.07)" font-size="8.2" font-weight="bold" text-anchor="middle" fill="#000" stroke="#000" stroke-width="0.55">*</text>
<line x1="296.20" y1="544.40" x2="306.40" y2="544.40" stroke="#cdcdcd" stroke-width="1.0"/>
<path d="M299.60 544.40L301.30 542.70L303.00 544.40L301.30 546.10Z" fill="#fff" stroke="#cdcdcd" stroke-width="0.6"/>
<text transform="translate(306.80,546.47) scale(1,1.07)" font-size="5.4" font-weight="bold" text-anchor="start" fill="#000" stroke="#000" stroke-width="0.34">HbSS</text>
<line x1="296.20" y1="556.50" x2="306.40" y2="556.50" stroke="#2a2a2a" stroke-width="1.5"/>
<circle cx="301.3" cy="556.5" r="1.5" fill="#2a2a2a"/>
<text transform="translate(306.80,558.57) scale(1,1.07)" font-size="5.4" font-weight="bold" text-anchor="start" fill="#000" stroke="#000" stroke-width="0.34">HbSS + Haptoglobin</text>
<line x1="296.20" y1="568.70" x2="306.40" y2="568.70" stroke="#b8b8b8" stroke-width="1.3"/>
<rect x="299.90" y="567.30" width="2.80" height="2.80" fill="#b8b8b8"/>
<text transform="translate(306.80,570.77) scale(1,1.07)" font-size="5.4" font-weight="bold" text-anchor="start" fill="#000" stroke="#000" stroke-width="0.34">HbSS + Hemopexin</text>
<line x1="296.20" y1="580.80" x2="306.40" y2="580.80" stroke="#6e6e6e" stroke-width="1.4"/>
<path d="M299.7 582.0999999999999L301.3 579.0999999999999L302.9 582.0999999999999Z" fill="#6e6e6e"/>
<text transform="translate(306.80,582.87) scale(1,1.07)" font-size="5.4" font-weight="bold" text-anchor="start" fill="#000" stroke="#000" stroke-width="0.34">HbAA</text>
</svg>
</body></html>
